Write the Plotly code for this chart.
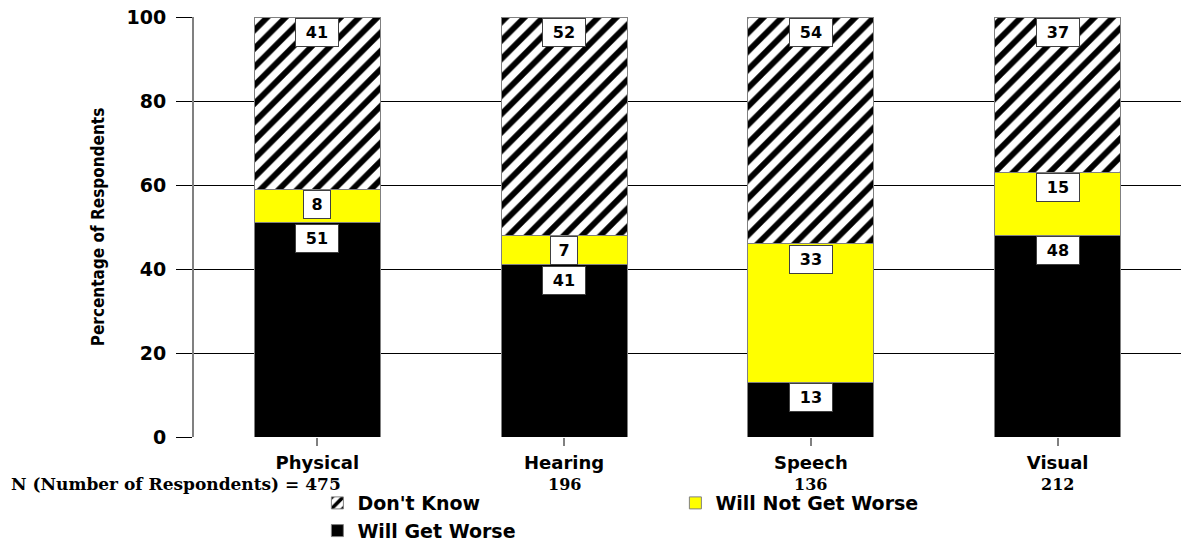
import plotly.graph_objects as go

categories = ["Physical", "Hearing", "Speech", "Visual"]
will_get_worse = [51, 41, 13, 48]
will_not_get_worse = [8, 7, 33, 15]
dont_know = [41, 52, 54, 37]
respondents = [475, 196, 136, 212]
y_ticks = [0, 20, 40, 60, 80, 100]

BOLD = "DejaVu Sans"
SERIF = "DejaVu Serif"
fig = go.Figure()

fig.add_trace(go.Bar(
    x=categories, y=will_get_worse, name="Will Get Worse",
    marker=dict(color="#000000", line=dict(color="#808080", width=1)),
))
fig.add_trace(go.Bar(
    x=categories, y=will_not_get_worse, name="Will Not Get Worse",
    marker=dict(color="#FFFF00", line=dict(color="#808080", width=1)),
))
fig.add_trace(go.Bar(
    x=categories, y=dont_know, name="Don't Know",
    marker=dict(color="#FFFFFF", line=dict(color="#808080", width=1),
                pattern=dict(shape="/", fgcolor="#000000", bgcolor="#FFFFFF",
                             fgopacity=1, size=13, solidity=0.45)),
))

annotations = []
for i, c in enumerate(categories):
    base = 0
    for vals in (will_get_worse, will_not_get_worse, dont_know):
        v = vals[i]
        top = base + v
        txt = str(v)
        annotations.append(dict(
            x=c, y=top, xref="x", yref="y", text="<b>%s</b>" % txt,
            showarrow=False, yanchor="top", xanchor="center",
            font=dict(family=BOLD, size=16, color="#000000"),
            bgcolor="#FFFFFF", bordercolor="#404040", borderwidth=1, borderpad=4,
            width=34 if len(txt) > 1 else 18, yshift=-1,
        ))
        base = top

annotations.append(dict(
    x=0.105, y=-0.113, xref="x", yref="paper",
    text="<b>N (Number of Respondents) = %d</b>" % respondents[0],
    showarrow=False, xanchor="right", yanchor="middle",
    font=dict(family=SERIF, size=17, color="#000000"),
))
for i in range(1, len(categories)):
    annotations.append(dict(
        x=i, y=-0.113, xref="x", yref="paper",
        text="<b>%d</b>" % respondents[i],
        showarrow=False, xanchor="center", yanchor="middle",
        font=dict(family=SERIF, size=16, color="#000000"),
    ))

fig.update_layout(
    width=1181, height=542,
    margin=dict(l=194, r=0, t=17, b=105, autoexpand=False),
    barmode="stack", bargap=0.49,
    paper_bgcolor="#FFFFFF", plot_bgcolor="#FFFFFF",
    showlegend=True,
    legend=dict(
        orientation="h", traceorder="reversed",
        x=0.125, y=-0.112, xanchor="left", yanchor="top",
        entrywidth=313, entrywidthmode="pixels",
        font=dict(family=BOLD, size=19, color="#000000", weight="bold"),
        bgcolor="rgba(0,0,0,0)", tracegroupgap=0,
    ),
    annotations=annotations,
    font=dict(family=BOLD, color="#000000"),
)

fig.update_yaxes(
    range=[0, 100], tickvals=y_ticks, automargin=False,
    showgrid=True, gridcolor="#000000", gridwidth=1,
    ticks="outside", ticklen=16, tickcolor="#000000", tickwidth=1,
    showline=True, linecolor="#808080", linewidth=2,
    zeroline=False,
    tickfont=dict(family=BOLD, size=19, color="#000000", weight="bold"),
    ticklabelstandoff=6,
    title=dict(text="Percentage of Respondents", standoff=18,
               font=dict(family="DejaVu Sans Condensed, Liberation Sans Narrow, Liberation Sans",
                         size=17, color="#000000", weight="bold")),
)
fig.update_xaxes(
    range=[-0.5, 3.5], automargin=False,
    showline=False, showgrid=False, zeroline=False,
    ticks="outside", ticklen=8, tickcolor="#808080", tickwidth=2,
    tickfont=dict(family=BOLD, size=18, color="#000000", weight="bold"),
    ticklabelstandoff=1,
)

fig.write_html("out.html")
